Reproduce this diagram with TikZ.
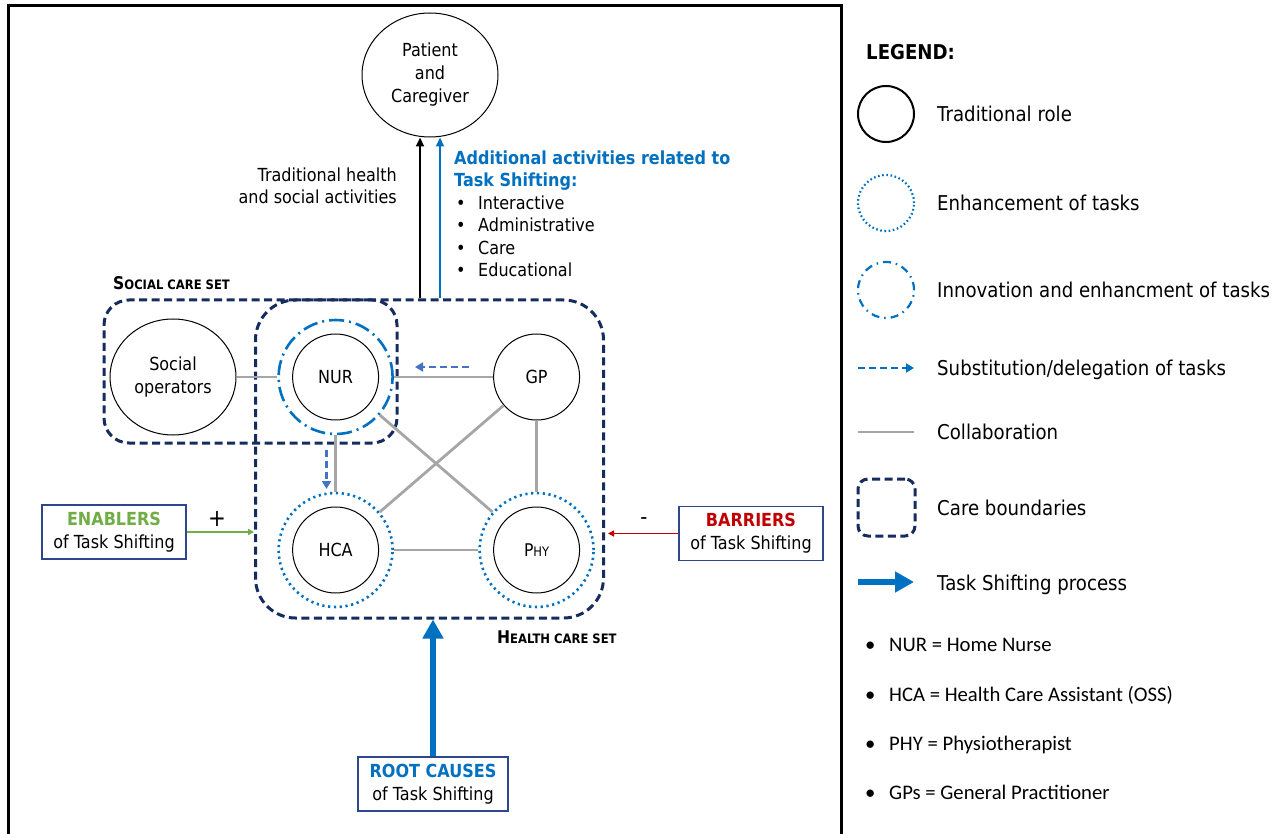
\documentclass[tikz,border=0pt]{standalone}
\usepackage{fontspec}
\setmainfont{DejaVu Sans}[FakeStretch=0.89]
\newfontfamily\calib{Carlito}
\usetikzlibrary{arrows.meta,calc,shapes.geometric}

\definecolor{navy}{RGB}{23,44,94}
\definecolor{tsblue}{RGB}{0,112,192}
\definecolor{substblue}{RGB}{68,114,196}
\definecolor{collgray}{RGB}{166,166,166}
\definecolor{engreen}{RGB}{112,173,71}
\definecolor{barred}{RGB}{192,0,0}
\definecolor{boxline}{RGB}{47,70,140}

% pseudo small caps: first letter large, rest small
\newcommand\mysc[2]{{\fontsize{17.5}{20}\selectfont #1}{\fontsize{13}{15}\selectfont #2}}
\newcommand\fsA{\fontsize{18}{23}\selectfont}
\newcommand\fsL{\fontsize{20.4}{24}\selectfont}

\begin{document}
\begin{tikzpicture}[x=1pt,y=-1pt,
  role/.style={circle, draw=black, line width=1pt, minimum size=86pt, inner sep=0pt, font=\fsA},
  ring/.style={circle, minimum size=114pt, inner sep=0pt},
  enhring/.style={ring, draw=tsblue, line width=2.6pt, dash pattern=on 2.2pt off 3.6pt},
  innring/.style={ring, draw=tsblue, line width=2.6pt, dash pattern=on 15pt off 5pt on 2pt off 5pt},
  collab/.style={draw=collgray, line width=2.8pt},
  bound/.style={draw=navy, line width=3pt, dash pattern=on 8pt off 4.5pt},
  subst/.style={draw=substblue, line width=2.6pt, dash pattern=on 7pt off 4pt, -{Triangle[length=8pt,width=9pt]}},
  process/.style={draw=tsblue, line width=5.5pt, -{Triangle[length=19pt,width=20pt]}},
  txt/.style={inner sep=0pt, font=\fsA},
  ltxt/.style={inner sep=0pt, font=\fsL, anchor=base west},
  ctxt/.style={inner sep=0pt, font=\calib\fontsize{20.7}{24}\selectfont, anchor=base west},
  labbox/.style={draw=boxline, line width=1.2pt, inner sep=0pt, align=center, font=\fsA, minimum height=54pt}
]
\useasboundingbox (0,0) rectangle (1285,834);
\fill[white] (0,0) rectangle (1285,834);

% outer frame (open at the bottom)
\draw[line width=3pt] (8,834) -- (8,6) -- (841,6) -- (841,834);

% care boundaries
\node[bound, rounded corners=40pt, minimum width=348pt, minimum height=318pt] (hcs) at (429.5,459) {};
\node[bound, rounded corners=25pt, minimum width=293pt, minimum height=143pt] (scs) at (250.5,371.5) {};
\node[txt, anchor=base west, font=\bfseries] (scslab) at (113,289.5) {\mysc{S}{OCIAL CARE SET}};
\node[txt, anchor=base west, font=\bfseries] (hcslab) at (497,643.5) {\mysc{H}{EALTH CARE SET}};

% patient
\node[ellipse, draw=black, line width=1pt, minimum width=136pt, minimum height=124pt, inner sep=0pt, align=center, font=\fsA] (pat) at (430,75) {Patient\\and\\Caregiver};

% roles
\node[ellipse, draw=black, line width=1pt, minimum width=126pt, minimum height=116pt, inner sep=0pt, align=center, font=\fsA] (soc) at (173,377) {Social\\operators};
\node[role] (nur) at (335.6,377) {NUR};
\node[innring] (nurO) at (335.6,377) {};
\node[role] (gp) at (536.6,377) {GP};
\node[role] (hca) at (335.6,550) {HCA};
\node[enhring] (hcaO) at (335.6,550) {};
\node[role] (phy) at (536.6,550) {\mysc{P}{HY}};
\node[enhring] (phyO) at (536.6,550) {};

% collaboration
\draw[collab] (soc) -- (nurO);
\draw[collab] (nurO) -- (gp);
\draw[collab] (nurO) -- (hcaO);
\draw[collab] (nurO) -- (phyO);
\draw[collab] (gp) -- (hcaO);
\draw[collab] (gp) -- (phyO);
\draw[collab] (hcaO) -- (phyO);

% substitution / delegation
\coordinate (d1s) at (469,367);
\coordinate (d1e) at (415,367);
\draw[subst] (d1s) -- (d1e);
\coordinate (d2s) at (326.5,450);
\coordinate (d2e) at (326.5,489);
\draw[subst] (d2s) -- (d2e);

% activities towards the patient
\coordinate (ta) at ([xshift=-9.5pt]hcs.north);
\coordinate (tb) at ([xshift=10.5pt]hcs.north);
\draw[line width=2.2pt, -{Triangle[length=9pt,width=8pt]}] (ta) -- (ta |- pat.south);
\draw[tsblue, line width=2.2pt, -{Triangle[length=9pt,width=8pt]}] (tb) -- (tb |- pat.south);

\node[txt, anchor=base east] (trad1) at (397,181.5) {Traditional health};
\node[txt, anchor=base east] (trad2) at (397,203.5) {and social activities};

\node[txt, anchor=base west, text=tsblue, font=\fsA\bfseries] (add1) at (454,164.5) {Additional activities related to};
\node[txt, anchor=base west, text=tsblue, font=\fsA\bfseries] (add2) at (454,186.5) {Task Shifting:};
\node[txt, anchor=base west] (ab1) at (456,209.5) {•};
\node[txt, anchor=base west] (at1) at (478,209.5) {Interactive};
\node[txt, anchor=base west] (ab2) at (456,231.5) {•};
\node[txt, anchor=base west] (at2) at (478,231.5) {Administrative};
\node[txt, anchor=base west] (ab3) at (456,254.5) {•};
\node[txt, anchor=base west] (at3) at (478,254.5) {Care};
\node[txt, anchor=base west] (ab4) at (456,276.5) {•};
\node[txt, anchor=base west] (at4) at (478,276.5) {Educational};

% enablers, barriers, root causes
\node[labbox, minimum width=144pt] (enab) at (114,532) {{\bfseries\color{engreen}ENABLERS}\\of Task Shifting};
\node[labbox, minimum width=144pt] (barr) at (751,533.5) {{\bfseries\color{barred}BARRIERS}\\of Task Shifting};
\node[labbox, minimum width=150pt] (root) at (433,784) {{\bfseries\color{tsblue}ROOT CAUSES}\\of Task Shifting};

\draw[engreen, line width=1.6pt, -{Triangle[length=6pt,width=6pt]}] (enab.east) -- (enab.east -| hcs.west);
\draw[barred, line width=1.6pt, -{Triangle[length=6pt,width=6pt]}] (barr.west) -- ([xshift=3pt]barr.west -| hcs.east);
\node[txt, font=\fontsize{24}{24}\selectfont] (plus) at (217,519) {+};
\node[txt, font=\fontsize{22}{22}\selectfont] (minus) at (644,521) {-};
\draw[process] (root.north) -- (root.north |- hcs.south);

% legend
\node[ltxt, font=\fsL\bfseries] (leg) at (866,60) {LEGEND:};
\node[circle, draw=black, line width=2pt, minimum size=56pt, inner sep=0pt] (lg1) at (886,114) {};
\node[ltxt] (lt1) at (937,121.3) {Traditional role};
\node[circle, draw=tsblue, line width=2.2pt, dash pattern=on 1.6pt off 2.6pt, minimum size=56pt, inner sep=0pt] (lg2) at (886,203) {};
\node[ltxt] (lt2) at (937,210.3) {Enhancement of tasks};
\node[circle, draw=tsblue, line width=2.2pt, dash pattern=on 8pt off 5pt on 1.5pt off 5pt, minimum size=56pt, inner sep=0pt] (lg3) at (886,290) {};
\node[ltxt] (lt3) at (937,297.3) {Innovation and enhancment of tasks};
\coordinate (lg4a) at (858,368);
\coordinate (lg4b) at (914,368);
\draw[subst, draw=tsblue] (lg4a) -- (lg4b);
\node[ltxt] (lt4) at (937,375.3) {Substitution/delegation of tasks};
\coordinate (lg5a) at (858,432);
\coordinate (lg5b) at (914,432);
\draw[collab] (lg5a) -- (lg5b);
\node[ltxt] (lt5) at (937,439.3) {Collaboration};
\node[bound, rounded corners=10pt, minimum size=57pt, inner sep=0pt] (lg6) at (886.5,507.5) {};
\node[ltxt] (lt6) at (937,515.3) {Care boundaries};
\coordinate (lg7a) at (858,582);
\coordinate (lg7b) at (914,582);
\draw[process] (lg7a) -- (lg7b);
\node[ltxt] (lt7) at (937,590.3) {Task Shifting process};

% abbreviations
\node[ctxt] (cb1) at (865,651.4) {•};
\node[ctxt] (ct1) at (889,651.4) {NUR = Home Nurse};
\node[ctxt] (cb2) at (865,701.4) {•};
\node[ctxt] (ct2) at (889,701.4) {HCA = Health Care Assistant (OSS)};
\node[ctxt] (cb3) at (865,750.4) {•};
\node[ctxt] (ct3) at (889,750.4) {PHY = Physiotherapist};
\node[ctxt] (cb4) at (865,799.4) {•};
\node[ctxt] (ct4) at (889,799.4) {GPs = General Practitioner};
\end{tikzpicture}
\end{document}
